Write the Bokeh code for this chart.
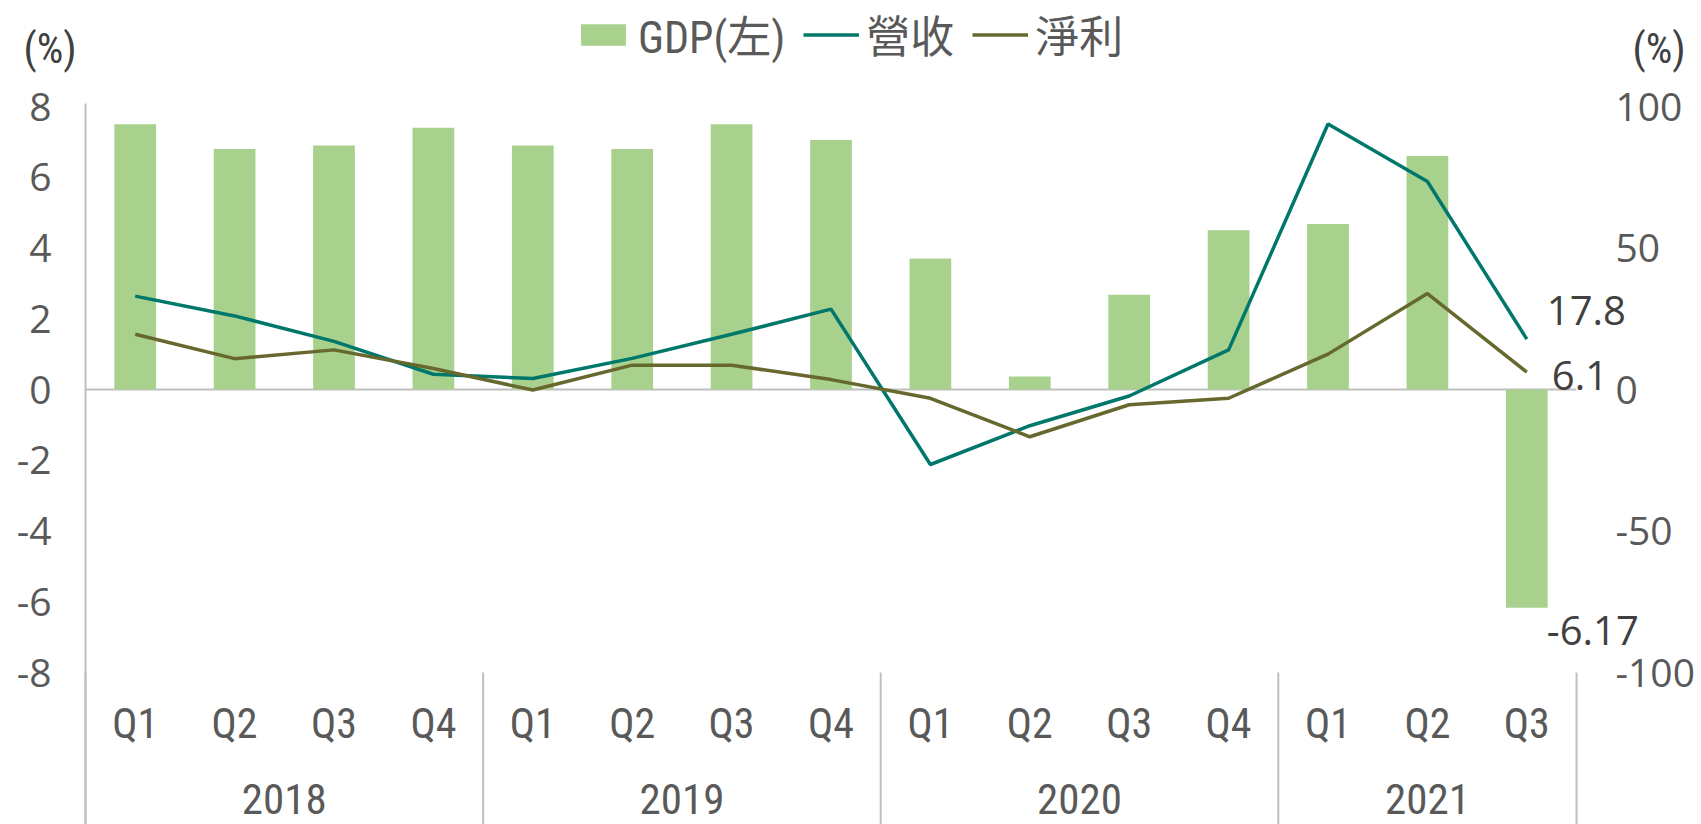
from bokeh.plotting import figure
from bokeh.models import Range1d, Legend, LegendItem, Label, ColumnDataSource
from bokeh.core.properties import value
from bokeh.embed import file_html
from bokeh.resources import INLINE

# ---------------- data ----------------
years = ["2018", "2019", "2020", "2021"]
quarters = [["Q1", "Q2", "Q3", "Q4"], ["Q1", "Q2", "Q3", "Q4"],
            ["Q1", "Q2", "Q3", "Q4"], ["Q1", "Q2", "Q3"]]
gdp = [7.5, 6.8, 6.9, 7.4, 6.9, 6.8, 7.5, 7.05, 3.7, 0.37, 2.68, 4.5, 4.68, 6.6, -6.17]
revenue = [33.0, 26.0, 17.0, 5.4, 3.9, 11.0, 19.5, 28.4, -26.5, -12.8, -2.3, 14.0, 93.8, 73.5, 17.8]
net_profit = [19.5, 10.9, 14.0, 7.4, -0.2, 8.6, 8.6, 3.5, -3.1, -16.7, -5.4, -3.1, 12.5, 33.9, 6.1]
left_ticks = [-8, -6, -4, -2, 0, 2, 4, 6, 8]
right_ticks = [-100, -50, 0, 50, 100]
series_names = ["GDP(左)", "營收", "淨利"]
unit_label = "(%)"

# ---------------- derived positions (category index based) ----------------
quarter_labels = [q for qs in quarters for q in qs]
n = len(quarter_labels)
xs = [i + 0.5 for i in range(n)]
bounds = [0]
for qs in quarters:
    bounds.append(bounds[-1] + len(qs))
year_centers = [(a + b) / 2 for a, b in zip(bounds[:-1], bounds[1:])]

# ---------------- styles / layout ----------------
BAR = "#A9D18E"
TEAL = "#00776B"
OLIVE = "#66682E"
GREY_TXT = "#595959"
DARK_TXT = "#404040"
AXIS_GREY = "#BFBFBF"
NUM_FONT = "Open Sans"
CAT_FONT = "Liberation Sans Narrow, Roboto Condensed, DejaVu Sans Condensed, Noto Sans CJK TC"

W, H = 1701, 824
PL, PR, PT, PB = 85, 1576, 106, 672        # pixel box of the plotting area (8 .. -8)
LMIN, LMAX = left_ticks[0], left_ticks[-1]
RATIO = right_ticks[-1] / LMAX
ux = (PR - PL) / n
uy = (PB - PT) / (LMAX - LMIN)
x_start, x_end = -PL / ux, n + (W - PR) / ux
y_top, y_bot = LMAX + PT / uy, LMIN - (H - PB) / uy

p = figure(width=W, height=H, output_backend="svg", toolbar_location=None,
           x_range=Range1d(x_start, x_end), y_range=Range1d(y_bot, y_top),
           x_axis_location=None, y_axis_location=None,
           min_border=0, min_border_left=0, min_border_right=0,
           min_border_top=0, min_border_bottom=0)
p.extra_y_ranges = {"right": Range1d(y_bot * RATIO, y_top * RATIO)}
p.outline_line_color = None
p.grid.visible = False
p.background_fill_color = "white"
p.border_fill_color = "white"

# left axis line and zero line
p.segment(x0=[0], x1=[0], y0=[LMAX + 3 / uy], y1=[y_bot], line_color=AXIS_GREY, line_width=2)
p.segment(x0=[0], x1=[n], y0=[0], y1=[0], line_color=AXIS_GREY, line_width=2)

# tick labels (left: GDP scale, right: revenue / profit scale)
p.text(x=[0] * len(left_ticks), y=left_ticks, text=[str(t) for t in left_ticks],
       x_offset=-34, text_font=value(NUM_FONT), text_font_size="39px",
       text_color=GREY_TXT, text_align="right", text_baseline="middle")
p.text(x=[n] * len(right_ticks), y=right_ticks, text=[str(t) for t in right_ticks],
       y_range_name="right", x_offset=39, text_font=value(NUM_FONT),
       text_font_size="39px", text_color=GREY_TXT, text_align="left",
       text_baseline="middle")

src = ColumnDataSource(dict(x=xs, gdp=gdp, rev=revenue, net=net_profit))
bars = p.vbar(x="x", top="gdp", width=0.42, source=src, fill_color=BAR, line_color=None)
l_rev = p.line(x="x", y="rev", source=src, y_range_name="right", line_color=TEAL, line_width=3.5)
l_net = p.line(x="x", y="net", source=src, y_range_name="right", line_color=OLIVE, line_width=3.5)

# category labels
q_y = LMIN - 51 / uy
y_y = LMIN - 126 / uy
p.text(x=xs, y=[q_y] * n, text=quarter_labels,
       text_font=value(CAT_FONT), text_font_size="42px", text_color=GREY_TXT,
       text_align="center", text_baseline="middle")
p.text(x=year_centers, y=[y_y] * len(years), text=years,
       text_font=value(CAT_FONT), text_font_size="43px", text_color=GREY_TXT,
       text_align="center", text_baseline="middle")

# group separators
p.segment(x0=bounds, x1=bounds, y0=[LMIN] * len(bounds), y1=[y_bot] * len(bounds),
          line_color=AXIS_GREY, line_width=2)

# end-value annotations
last_x = xs[-1]
ann = [(revenue[-1], "right", 20, 29), (net_profit[-1], "right", 25, -3), (gdp[-1], "default", 20, -23)]
for v, rng, dx, dy in ann:
    p.add_layout(Label(x=last_x, y=v, y_range_name=rng, x_offset=dx, y_offset=dy,
                       text=f"{v}", text_font=NUM_FONT, text_font_size="40px",
                       text_color=DARK_TXT, text_align="left", text_baseline="middle"))

# unit labels
for sx in (23, 1632):
    p.add_layout(Label(x=sx, y=H - 48, x_units="screen", y_units="screen",
                       text=unit_label, text_font=CAT_FONT, text_font_size="42px",
                       text_color=DARK_TXT, text_baseline="middle", text_align="left"))

# legend
legend = Legend(items=[LegendItem(label=series_names[0], renderers=[bars]),
                       LegendItem(label=series_names[1], renderers=[l_rev]),
                       LegendItem(label=series_names[2], renderers=[l_net])],
                orientation="horizontal", location=(575, H - 66),
                glyph_width=56, glyph_height=27, label_standoff=7, spacing=18,
                padding=0, margin=0, border_line_color=None,
                background_fill_alpha=0,
                label_text_font=CAT_FONT, label_text_font_size="44px",
                label_text_color=GREY_TXT)
p.add_layout(legend)

open("out.html", "w").write(file_html(p, INLINE, title="chart"))
